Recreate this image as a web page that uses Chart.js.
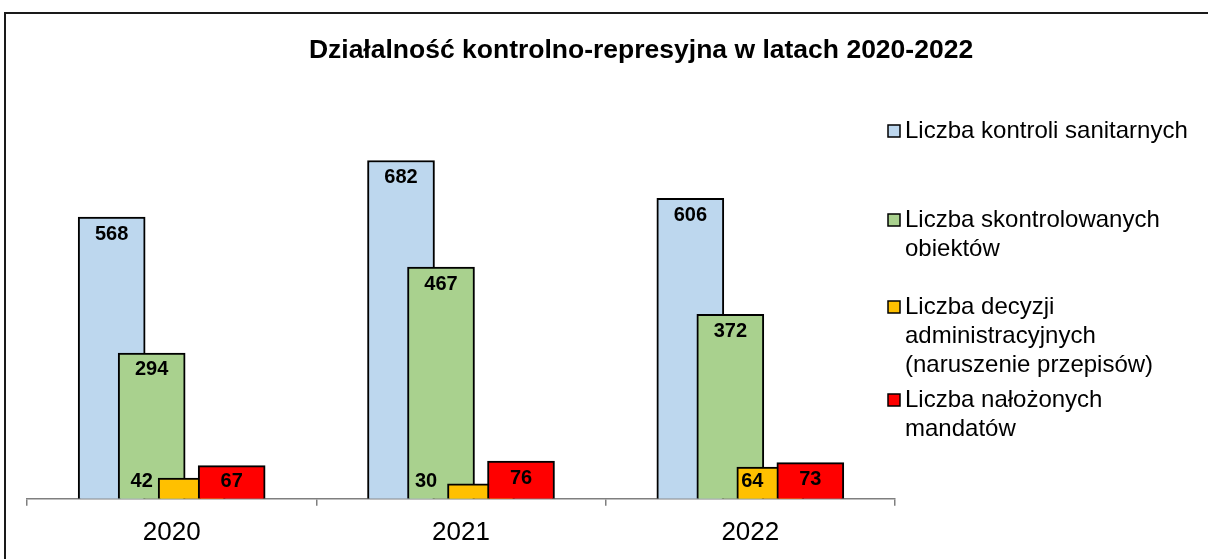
<!DOCTYPE html>
<html>
<head>
<meta charset="utf-8">
<script src="https://cdn.jsdelivr.net/npm/chart.js@4"></script>
<style>
  body { margin: 0; background: #fff; }
  #wrap { position: relative; width: 1208px; height: 559px; overflow: hidden; }
  #frame { position: absolute; left: 4px; top: 12px; width: 1300px; height: 600px;
           border-top: 2px solid #1a1a1a; border-left: 2px solid #1a1a1a; }
  canvas { position: absolute; left: 0; top: 0; }
</style>
</head>
<body>
<div id="wrap">
  <div id="frame"></div>
  <canvas id="chart" width="1208" height="559"></canvas>
</div>
<script>
const years = ['2020', '2021', '2022'];
const kontrole = [568, 682, 606];
const obiekty = [294, 467, 372];
const decyzje = [42, 30, 64];
const mandaty = [67, 76, 73];

const legendLines = [
    ['Liczba kontroli sanitarnych'],
    ['Liczba skontrolowanych', 'obiektów'],
    ['Liczba decyzji', 'administracyjnych', '(naruszenie przepisów)'],
    ['Liczba nałożonych', 'mandatów'],
];

const FONT = '"Liberation Sans", Arial, sans-serif';

// Excel style overlapped columns: move each series sideways inside its group
const overlapBars = {
    id: 'overlapBars',
    afterDatasetsUpdate(chart) {
        chart.data.datasets.forEach((ds, i) => {
            const meta = chart.getDatasetMeta(i);
            meta.data.forEach(el => { el.x += ds.shift; });
        });
    }
};

const valueLabels = {
    id: 'valueLabels',
    afterDatasetsDraw(chart) {
        const ctx = chart.ctx;
        const base = chart.scales.y.getPixelForValue(0);
        ctx.save();
        ctx.font = 'bold 20px ' + FONT;
        ctx.textAlign = 'center';
        ctx.textBaseline = 'middle';
        ctx.fillStyle = '#000';
        chart.data.datasets.forEach((ds, i) => {
            const meta = chart.getDatasetMeta(i);
            meta.data.forEach((el, j) => {
                const dx = ds.labelDx ? ds.labelDx[j] : 0;
                const y = Math.min(el.y + 17, base - 17);
                ctx.fillText(ds.data[j], el.x + dx, y);
            });
        });
        ctx.restore();
    }
};

const titleAndLegend = {
    id: 'titleAndLegend',
    afterDraw(chart, args, opts) {
        const ctx = chart.ctx;
        ctx.save();
        ctx.fillStyle = '#000';
        ctx.textBaseline = 'middle';
        ctx.textAlign = 'center';
        ctx.font = 'bold 26.5px ' + FONT;
        ctx.fillText(opts.title, 641, 51);

        ctx.textAlign = 'left';
        ctx.font = '24px ' + FONT;
        chart.data.datasets.forEach((ds, i) => {
            const top = opts.rows[i];
            ctx.fillStyle = ds.backgroundColor;
            ctx.fillRect(888, top - 6, 12, 12);
            ctx.strokeStyle = '#000';
            ctx.lineWidth = 1.5;
            ctx.strokeRect(888, top - 6, 12, 12);
            ctx.fillStyle = '#000';
            legendLines[i].forEach((line, k) => {
                ctx.fillText(line, 905, top + k * 29);
            });
        });
        ctx.restore();
    }
};

const data = {
    labels: years,
    datasets: [
        { label: legendLines[0].join(' '), data: kontrole, backgroundColor: '#BDD7EE', shift: -60, order: 3 },
        { label: legendLines[1].join(' '), data: obiekty, backgroundColor: '#A9D18E', shift: -20, order: 2 },
        { label: legendLines[2].join(' '), data: decyzje, backgroundColor: '#FFC000', shift: 20, order: 1, labelDx: [-50, -55, -18] },
        { label: legendLines[3].join(' '), data: mandaty, backgroundColor: '#FF0000', shift: 60, order: 0 },
    ]
};
data.datasets.forEach(ds => {
    ds.borderColor = '#000';
    ds.borderWidth = 2;
    ds.barThickness = 67;
    ds.grouped = false;
});

const options = {
    responsive: false,
    animation: false,
    layout: { padding: { left: 27, right: 313, top: 102, bottom: 0 } },
    plugins: {
        legend: { display: false },
        tooltip: { enabled: false },
        titleAndLegend: {
            title: 'Działalność kontrolno-represyjna w latach 2020-2022',
            rows: [131, 220, 307, 400],
        },
    },
    scales: {
        x: {
            offset: true,
            grid: { offset: true, drawOnChartArea: false, tickLength: 7, color: '#7f7f7f', lineWidth: 1.5 },
            border: { color: '#7f7f7f', width: 1.5 },
            ticks: { color: '#000', padding: 11, font: { size: 26, family: FONT } },
        },
        y: { display: false, min: 0, max: 800 },
    },
};

new Chart(document.getElementById('chart'), {
    type: 'bar',
    data: data,
    options: options,
    plugins: [overlapBars, valueLabels, titleAndLegend],
});
</script>
</body>
</html>
